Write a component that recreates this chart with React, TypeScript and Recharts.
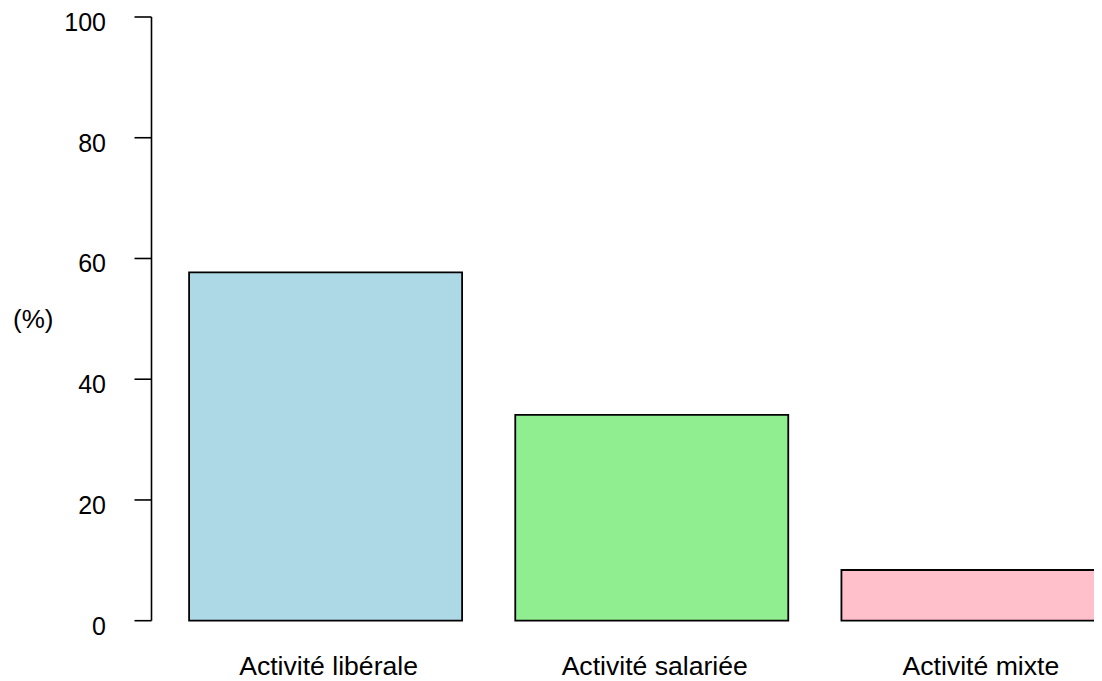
import { Bar, BarChart, Cell, XAxis, YAxis } from "recharts";

const categories = ["Activité libérale", "Activité salariée", "Activité mixte"];
const shares = [57.7, 34.1, 8.4];
const barColors = ["#ADD8E6", "#90EE90", "#FFC0CB"];
const yTicks = [0, 20, 40, 60, 80, 100];

const chartData = categories.map((name, i) => ({ name, share: shares[i] }));

const FONT = "'Liberation Sans', Arial, Helvetica, sans-serif";

function YTick({ x, y, payload }: any) {
  return (
    <text x={x} y={y + 5} dy="0.355em" textAnchor="end" fontSize={25} fontFamily={FONT} fill="#000">
      {payload.value}
    </text>
  );
}

function XTick({ x, y, payload }: any) {
  return (
    <text x={x + 3} y={y + 54} textAnchor="middle" fontSize={26.6} fontFamily={FONT} fill="#000">
      {payload.value}
    </text>
  );
}

export default function App() {
  return (
    <div style={{ width: 1200, height: 673, overflow: "hidden", background: "#fff" }}>
      <style>{"body{overflow:hidden;background:#fff}"}</style>
      <BarChart
        width={1133}
        height={673}
        data={chartData}
        margin={{ top: 9, right: 0, bottom: 0, left: 0 }}
        barCategoryGap={26.6}
        style={{ fontFamily: FONT }}
      >
        <XAxis
          dataKey="name"
          axisLine={false}
          tickLine={false}
          tickSize={0}
          tickMargin={0}
          height={60.3}
          padding={{ left: 11, right: 0 }}
          interval={0}
          tick={<XTick />}
        />
        <YAxis
          width={143.5}
          domain={[0, 100]}
          ticks={yTicks}
          interval={0}
          tickSize={17}
          tickMargin={28.5}
          axisLine={{ stroke: "#000", strokeWidth: 1.6 }}
          tickLine={{ stroke: "#000", strokeWidth: 1.6 }}
          tick={<YTick />}
          label={{ value: "(%)", position: "insideLeft", offset: 5, fontSize: 26, fill: "#000", fontFamily: FONT }}
        />
        <Bar dataKey="share" stroke="#000" strokeWidth={1.8} isAnimationActive={false}>
          {chartData.map((d, i) => (
            <Cell key={d.name} fill={barColors[i]} />
          ))}
        </Bar>
      </BarChart>
    </div>
  );
}
